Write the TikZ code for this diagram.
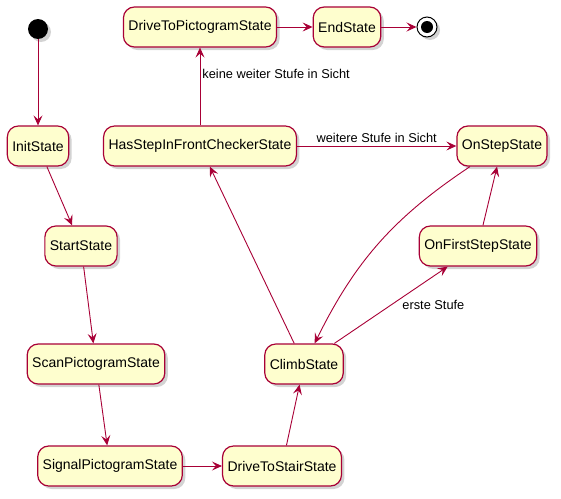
\documentclass[tikz,border=0pt]{standalone}
\usepackage{fontspec}
\setmainfont{Liberation Sans}
\usepackage{tikz}
\usetikzlibrary{arrows.meta,shadows}
\definecolor{stfill}{HTML}{FEFECE}
\definecolor{stline}{HTML}{A80036}

\begin{document}
\begin{tikzpicture}[
    x=1pt, y=-1pt,
    state/.style={draw=stline, line width=1.2pt, fill=stfill, rectangle,
        rounded corners=11pt, minimum height=40pt, inner xsep=5pt,
        font=\fontsize{14}{16}\selectfont,
        drop shadow={shadow xshift=3pt, shadow yshift=-3pt, opacity=0.35}},
    arrow/.style={-{Stealth[length=10pt, width=9pt, inset=4pt]}, draw=stline, line width=0.9pt},
    lbl/.style={font=\fontsize{12.8}{14}\selectfont, inner sep=1pt},
]
\useasboundingbox (0,0) rectangle (561,498);

\node[circle, fill=black, minimum size=20pt, inner sep=0pt,
    drop shadow={shadow xshift=3pt, shadow yshift=-3pt, opacity=0.35}] (start) at (38,29) {};
\node[state] (init) at (38,146) {InitState};
\node[state] (startst) at (81,246) {StartState};
\node[state] (scan) at (96,364) {ScanPictogramState};
\node[state] (signal) at (110,466) {SignalPictogramState};
\node[state] (stair) at (282,466) {DriveToStairState};
\node[state] (climb) at (304,364) {ClimbState};
\node[state] (check) at (200,146) {HasStepInFrontCheckerState};
\node[state] (picto) at (200,27) {DriveToPictogramState};
\node[state] (endst) at (347,27) {EndState};
\node[state] (onstep) at (502,146) {OnStepState};
\node[state] (first) at (478,246) {OnFirstStepState};
\node[circle, draw=black, line width=1pt, fill=white, minimum size=20pt, inner sep=0pt,
    drop shadow={shadow xshift=3pt, shadow yshift=-3pt, opacity=0.35}] (stop) at (427,27) {};
\fill (stop) circle (6pt);

\draw[arrow] (start) -- (init);
\draw[arrow] (init) -- (startst);
\draw[arrow] (startst) -- (scan);
\draw[arrow] (scan) -- (signal);
\draw[arrow] (signal) -- (stair);
\draw[arrow] (stair) -- (climb);
\draw[arrow] (climb) -- (check);
\draw[arrow] (check) -- (picto) node[lbl, pos=0.66, anchor=west, xshift=1pt] {keine weiter Stufe in Sicht};
\draw[arrow] (check) -- (onstep) node[lbl, midway, above, yshift=2pt] {weitere Stufe in Sicht};
\draw[arrow] (onstep) to[bend right=15] (climb);
\draw[arrow] (climb) -- (first) node[lbl, midway, anchor=west, xshift=10pt] {erste Stufe};
\draw[arrow] (first) -- (onstep);
\draw[arrow] (picto) -- (endst);
\draw[arrow] (endst) -- (stop);

\end{tikzpicture}
\end{document}
